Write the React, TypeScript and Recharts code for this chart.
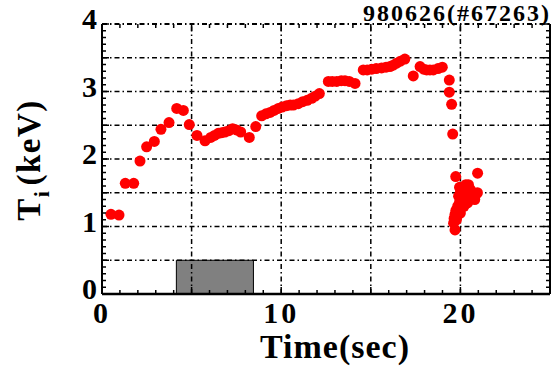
import React from "react";
import {
  ScatterChart,
  Scatter,
  XAxis,
  YAxis,
  ReferenceLine,
  ReferenceArea,
  Label,
} from "recharts";

// ion temperature vs time, shot 980626 (#67263)
const TIME = [
  0.5, 0.95, 1.3, 1.77, 2.12, 2.49, 2.92, 3.29, 3.74, 4.17,
  4.54, 4.87, 5.3, 5.75, 6.07, 6.28, 6.49, 6.68, 6.86, 7.08,
  7.29, 7.5, 7.74, 8.22, 8.58, 8.91, 9.15, 9.38, 9.6, 9.84,
  10.05, 10.3, 10.5, 10.68, 10.95, 11.2, 11.45, 11.7, 11.9, 12.13,
  12.63, 12.85, 13.1, 13.35, 13.56, 13.8, 14.12, 14.58, 14.8, 15.05,
  15.3, 15.6, 15.85, 16.07, 16.25, 16.44, 16.65, 16.9, 17.37, 17.75,
  17.95, 18.12, 18.3, 18.49, 18.75, 18.99, 19.38, 19.38, 19.51, 19.57,
  19.62, 19.65, 19.7, 19.7, 19.74, 19.75, 19.78, 19.85, 19.9, 19.9,
  19.95, 20.0, 20.0, 20.05, 20.1, 20.15, 20.2, 20.25, 20.35, 20.4,
  20.45, 20.55, 20.7, 20.85, 20.95, 20.96, 19.8, 20.0, 20.2, 20.4,
  20.6, 20.8, 19.95, 20.3,
];
const TI = [
  1.18, 1.17, 1.64, 1.64, 1.97, 2.18, 2.26, 2.44, 2.54, 2.75,
  2.72, 2.51, 2.35, 2.27, 2.32, 2.35, 2.38, 2.39, 2.4, 2.42,
  2.45, 2.43, 2.4, 2.32, 2.48, 2.64, 2.67, 2.69, 2.72, 2.75,
  2.77, 2.79, 2.8, 2.8, 2.82, 2.85, 2.87, 2.9, 2.93, 2.97,
  3.15, 3.15, 3.15, 3.16, 3.16, 3.15, 3.12, 3.32, 3.32, 3.33,
  3.34, 3.35, 3.36, 3.37, 3.39, 3.42, 3.45, 3.48, 3.23, 3.37,
  3.33, 3.32, 3.32, 3.32, 3.34, 3.36, 3.17, 2.99, 2.81, 2.37,
  1.05, 1.12, 0.95, 1.18, 1.74, 1.24, 1.1, 1.3, 1.2, 1.45,
  1.36, 1.28, 1.5, 1.42, 1.35, 1.48, 1.42, 1.52, 1.58, 1.45,
  1.62, 1.55, 1.5, 1.47, 1.5, 1.79, 1.15, 1.2, 1.3, 1.35,
  1.42, 1.4, 1.58, 1.62,
];

const X_LABELS = [0, 10, 20];
const Y_LABELS = [0, 1, 2, 3, 4];
const X_GRID = [5, 10, 15, 20];
const Y_GRID = [0.5, 1, 1.5, 2, 2.5, 3, 3.5, 4];
// heating pulse window (gray box)
const PULSE = [4.15, 8.45];
const PULSE_TOP = 0.5;
const TITLE = "980626(#67263)";

const data = TIME.map((t, i) => ({ t, ti: TI[i] }));
const xMinor = Array.from({ length: 26 }, (_, i) => i);
const yMinor = Array.from({ length: 41 }, (_, i) => i / 10);

const PLOT_W = 448;
const PLOT_H = 270;
const TXT = { fontFamily: "Liberation Serif, serif", fontWeight: 700 } as const;
const DASH = "5 3 1.5 3";

function XTick(props: any) {
  const { x, y, payload } = props;
  const v = payload.value;
  const len = v % 5 === 0 ? 7 : 4;
  return (
    <g>
      <line x1={x} y1={y} x2={x} y2={y - len} stroke="#000" strokeWidth={1.5} />
      <line x1={x} y1={y - PLOT_H} x2={x} y2={y - PLOT_H + len} stroke="#000" strokeWidth={1.5} />
      {X_LABELS.includes(v) && (
        <text x={x} y={y + 29} textAnchor="middle" style={{ ...TXT, fontSize: 30, letterSpacing: 3 }}>
          {v}
        </text>
      )}
    </g>
  );
}

function YTick(props: any) {
  const { x, y, payload } = props;
  const v = Math.round(payload.value * 10);
  const len = v % 5 === 0 ? 7 : 4;
  return (
    <g>
      <line x1={x} y1={y} x2={x + len} y2={y} stroke="#000" strokeWidth={1.5} />
      <line x1={x + PLOT_W} y1={y} x2={x + PLOT_W - len} y2={y} stroke="#000" strokeWidth={1.5} />
      {Y_LABELS.includes(v / 10) && (
        <text x={x - 5} y={y + 5} textAnchor="end" style={{ ...TXT, fontSize: 30 }}>
          {v / 10}
        </text>
      )}
    </g>
  );
}

const YTitle = () => (
  <text
    transform="translate(40,160) rotate(-90)"
    textAnchor="middle"
    style={{ ...TXT, fontSize: 33, letterSpacing: 1.5 }}
  >
    T<tspan dy={9} style={{ fontSize: 22 }}>i</tspan>
    <tspan dy={-9} dx={4}>(keV)</tspan>
  </text>
);

const XTitle = () => (
  <g>
    <text x={335} y={358} textAnchor="middle" style={{ ...TXT, fontSize: 34, letterSpacing: 1 }}>
      Time(sec)
    </text>
    <text x={551} y={21} textAnchor="end" style={{ ...TXT, fontSize: 24, letterSpacing: 2 }}>
      {TITLE}
    </text>
  </g>
);

export default function App() {
  return (
    <div style={{ position: "absolute", left: 0, top: 0, width: 560, height: 367, background: "#fff" }}>
      <ScatterChart width={560} height={367} margin={{ top: 24, right: 10, bottom: 0, left: 0 }}>
        <XAxis
          dataKey="t"
          type="number"
          domain={[0, 25]}
          ticks={xMinor}
          interval={0}
          tickSize={0}
          tickMargin={0}
          tick={XTick}
          height={73}
          axisLine={{ stroke: "#000", strokeWidth: 2.5 }}
          allowDataOverflow
        >
          <Label content={XTitle} />
        </XAxis>
        <YAxis
          dataKey="ti"
          type="number"
          domain={[0, 4]}
          ticks={yMinor}
          interval={0}
          tickSize={0}
          tickMargin={0}
          tick={YTick}
          width={102}
          axisLine={{ stroke: "#000", strokeWidth: 2 }}
          allowDataOverflow
        >
          <Label content={YTitle} />
        </YAxis>
        {X_GRID.map((v) => (
          <ReferenceLine key={"x" + v} x={v} stroke="#000" strokeWidth={1.5} strokeDasharray={DASH} />
        ))}
        {Y_GRID.map((v) => (
          <ReferenceLine key={"y" + v} y={v} stroke="#000" strokeWidth={v === 4 ? 2 : 1.5} strokeDasharray={DASH} />
        ))}
        <ReferenceLine x={25} stroke="#000" strokeWidth={2} />
        <ReferenceArea
          x1={PULSE[0]}
          x2={PULSE[1]}
          y1={0}
          y2={PULSE_TOP}
          fill="#808080"
          fillOpacity={1}
          stroke="#000"
          strokeWidth={1}
        />
        <Scatter
          data={data}
          isAnimationActive={false}
          shape={(p: any) => <circle cx={p.cx} cy={p.cy} r={5.5} fill="#ff0000" />}
        />
      </ScatterChart>
    </div>
  );
}
